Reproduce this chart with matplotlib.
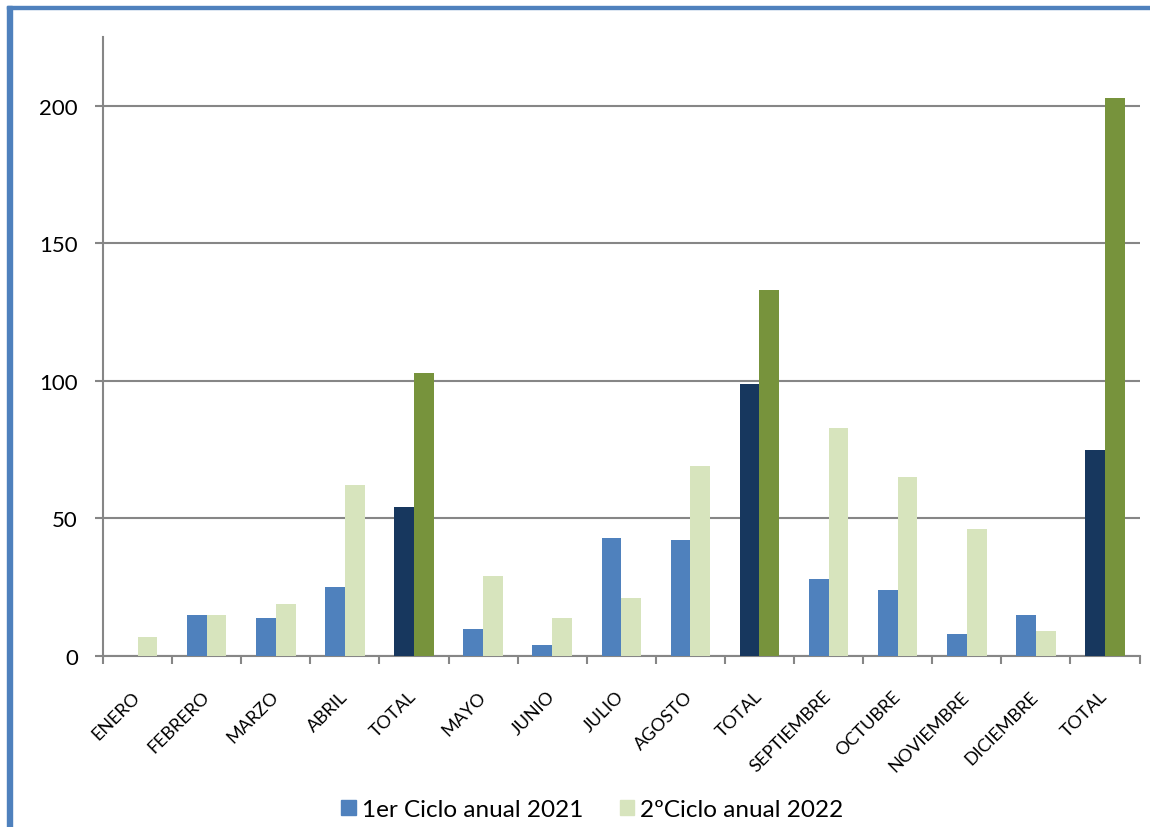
import matplotlib
matplotlib.use("Agg")
import matplotlib.pyplot as plt
import numpy as np
from matplotlib.patches import Rectangle, Patch

plt.rcParams['font.family'] = ['Lato', 'DejaVu Sans']

categories = ["ENERO", "FEBRERO", "MARZO", "ABRIL", "TOTAL",
              "MAYO", "JUNIO", "JULIO", "AGOSTO", "TOTAL",
              "SEPTIEMBRE", "OCTUBRE", "NOVIEMBRE", "DICIEMBRE", "TOTAL"]
ciclo_2021 = [0, 15, 14, 25, 54, 10, 4, 43, 42, 99, 28, 24, 8, 15, 75]
ciclo_2022 = [7, 15, 19, 62, 103, 29, 14, 21, 69, 133, 83, 65, 46, 9, 203]
y_ticks = [0, 50, 100, 150, 200]
legend_labels = ["1er Ciclo anual 2021", "2ºCiclo anual 2022"]

BLUE = "#4F81BD"
LIGHT_GREEN = "#D7E4BD"
NAVY = "#17375E"
OLIVE = "#77933C"
GRID = "#868686"

is_total = [c == "TOTAL" for c in categories]
colors_2021 = [NAVY if t else BLUE for t in is_total]
colors_2022 = [OLIVE if t else LIGHT_GREEN for t in is_total]

fig = plt.figure(figsize=(11.5, 8.28), dpi=100)
ax = fig.add_axes([0.0896, 0.2065, 0.9013, 0.7475])

x = np.arange(len(categories))
w = 1 / 3.5
ax.bar(x - w / 2, ciclo_2021, width=w, color=colors_2021, zorder=3)
ax.bar(x + w / 2, ciclo_2022, width=w, color=colors_2022, zorder=3)

ax.set_xlim(-0.5, len(categories) - 0.5)
ax.set_ylim(0, 225)

ax.set_yticks(y_ticks)
ax.set_yticklabels([str(v) for v in y_ticks], fontsize=16)
ax.yaxis.grid(True, color=GRID, linewidth=1.5, zorder=0)
ax.tick_params(axis='y', length=6, width=1.5, color=GRID, pad=12)

ax.set_xticks(x)
ax.set_xticklabels(categories, rotation=45, ha='right', va='center',
                   rotation_mode='anchor', fontsize=13)
ax.tick_params(axis='x', which='major', length=0, pad=27)
ax.set_xticks(np.arange(-0.5, len(categories)), minor=True)
ax.tick_params(axis='x', which='minor', length=6, width=1.5, color=GRID)

for side in ['top', 'right']:
    ax.spines[side].set_visible(False)
for side in ['left', 'bottom']:
    ax.spines[side].set_color(GRID)
    ax.spines[side].set_linewidth(1.5)

handles = [Patch(color=BLUE), Patch(color=LIGHT_GREEN)]
fig.legend(handles, legend_labels, loc='lower center', ncol=2,
           bbox_to_anchor=(0.515, -0.018), frameon=False, fontsize=17.5,
           handlelength=0.6, handleheight=0.6, handletextpad=0.25,
           columnspacing=1.5)

# page frame: blue rule on the top and left edges
fig.patches.append(Rectangle((7 / 1150, 0), 5 / 1150, 821 / 828,
                             transform=fig.transFigure, color=BLUE,
                             zorder=5))
fig.patches.append(Rectangle((7 / 1150, 818 / 828), 1143 / 1150, 3.5 / 828,
                             transform=fig.transFigure, color=BLUE,
                             zorder=5))

fig.savefig("out.png", dpi=100)
